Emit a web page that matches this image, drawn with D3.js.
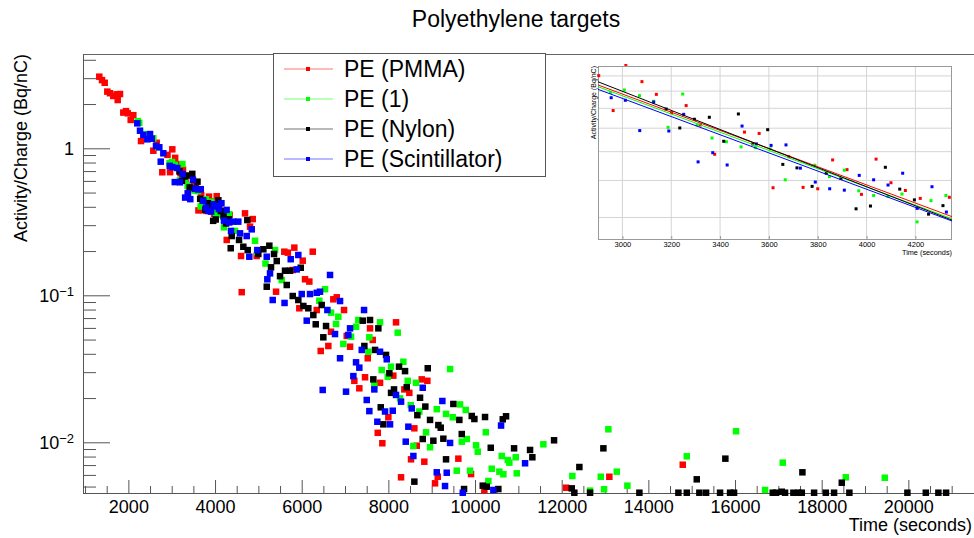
<!DOCTYPE html>
<html>
<head>
<meta charset="utf-8">
<script src="https://cdn.jsdelivr.net/npm/d3@7"></script>
<style>
body { margin: 0; background: #fff; }
text { font-family: "Liberation Sans", Arial, Helvetica, sans-serif; fill: #000; }
</style>
</head>
<body>
<svg class="chart"></svg>
<script>
var width = 974, height = 538;

var seriesNames = ["PE (PMMA)", "PE (1)", "PE (Nylon)", "PE (Scintillator)"];
var seriesColors = ["#ff0000", "#00ff00", "#000000", "#0000ff"];

// [time (s), activity/charge (Bq/nC)]
var pmmaPoints = [
  [1329,3.07],[1392,2.91],[1454,2.79],[1514,2.43],[1576,2.37],[1652,2.27],[1731,2.33],[1754,2.13],
  [1807,2.34],[1883,1.75],[1946,1.79],[1985,1.73],[2054,1.56],[2114,1.68],[2292,1.12],[2576,0.963],
  [2654,1.09],[2783,0.687],[2903,0.902],[2962,0.688],[3014,0.984],[3080,0.861],[3139,0.780],[3201,0.677],
  [3261,0.715],[3319,0.615],[3378,0.490],[3500,0.582],[3560,0.576],[3617,0.378],[3681,0.481],[3740,0.379],
  [3800,0.375],[3861,0.469],[3920,0.435],[3979,0.359],[4039,0.472],[4100,0.393],[4159,0.370],[4220,0.348],
  [4270,0.238],[4339,0.351],[4600,0.185],[4616,0.105],[4692,0.361],[4808,0.293],[4870,0.330],[4960,0.185],
  [5408,0.1058],[5599,0.198],[5680,0.195],[5793,0.1486],[5830,0.211],[5945,0.0816],[6024,0.172],[6077,0.1285],
  [6176,0.124],[6255,0.198],[6347,0.0794],[6439,0.0418],[6615,0.0452],[6677,0.0565],[6730,0.0939],[6809,0.0969],
  [6977,0.0794],[7039,0.0529],[7116,0.0447],[7215,0.0262],[7330,0.0233],[7462,0.0277],[7524,0.0373],[7577,0.0596],
  [7639,0.0497],[7755,0.0116],[7808,0.0254],[7861,0.00985],[8000,0.0148],[8115,0.0284],[8177,0.0655],[8293,0.00578],
  [8369,0.0229],[8484,0.0217],[8523,0.00766],[8600,0.01245],[8655,0.00948],[8770,0.0268],[8830,0.00738],[8900,0.0262],
  [9077,0.00526],[9140,0.00583],[9615,0.00774],[9908,0.00608],[10215,0.00474],[12101,0.00491],[13100,0.00583],[14794,0.00704]
];
var onePoints = [
  [2216,1.53],[2252,1.49],[2361,1.25],[2576,1.17],[2691,1.016],[2951,0.792],[3008,0.807],[3070,0.772],
  [3128,0.739],[3187,0.604],[3247,0.782],[3306,0.615],[3367,0.556],[3426,0.540],[3486,0.519],[3545,0.516],
  [3606,0.511],[3667,0.402],[3788,0.450],[3848,0.412],[3909,0.433],[3968,0.369],[4029,0.356],[4088,0.353],
  [4145,0.360],[4207,0.290],[4264,0.342],[4325,0.356],[4461,0.274],[4923,0.235],[4970,0.197],[5165,0.1645],
  [5385,0.203],[5539,0.127],[6407,0.0918],[6538,0.110],[6677,0.0762],[6792,0.0638],[6845,0.0715],[6961,0.0467],
  [7139,0.0523],[7254,0.0611],[7307,0.0679],[7538,0.0413],[7561,0.0518],[7676,0.0245],[7808,0.0655],[7847,0.0310],
  [7986,0.0279],[8062,0.0327],[8216,0.0557],[8269,0.0199],[8346,0.0353],[8447,0.0262],[8517,0.0179],[8577,0.00944],
  [8639,0.0254],[8715,0.0162],[8870,0.0117],[8962,0.00925],[9117,0.0168],[9331,0.0156],[9424,0.0315],[9486,0.0148],
  [9578,0.00641],[9654,0.0181],[9694,0.0101],[9786,0.0166],[9809,0.01053],[9885,0.00641],[10024,0.00954],[10063,0.00863],
  [10248,0.0117],[10308,0.00545],[10386,0.00661],[10562,0.00631],[10617,0.00807],[10654,0.00606],[10755,0.00758],[10792,0.00727],
  [10940,0.00791],[10963,0.00615],[11577,0.00969],[12246,0.0059],[12655,0.00469],[12902,0.00583],[12978,0.00479],[13077,0.01226],
  [13271,0.00631],[13516,0.00507],[14887,0.00803],[16024,0.01189],[16694,0.00474],[17102,0.00727],[18556,0.00578],[19456,0.00574]
];
var nylonPoints = [
  [3179,0.696],[3235,0.601],[3295,0.643],[3356,0.653],[3415,0.542],[3475,0.670],[3534,0.531],[3595,0.593],
  [3657,0.453],[3715,0.441],[3777,0.382],[3835,0.423],[3895,0.406],[3957,0.321],[4016,0.328],[4077,0.443],
  [4136,0.374],[4196,0.344],[4254,0.308],[4313,0.329],[4362,0.209],[4385,0.253],[4554,0.238],[4653,0.214],
  [4745,0.325],[4754,0.203],[4999,0.191],[5115,0.2056],[5193,0.1144],[5253,0.2175],[5292,0.155],[5361,0.191],
  [5424,0.171],[5500,0.135],[5615,0.147],[5655,0.1175],[5731,0.147],[5793,0.0989],[5922,0.0929],[5978,0.154],
  [6038,0.0846],[6153,0.0816],[6268,0.0734],[6324,0.0635],[6462,0.0859],[6499,0.0518],[6562,0.0618],[7409,0.0672],
  [7446,0.0452],[7577,0.0679],[7653,0.0268],[7693,0.0425],[7769,0.0596],[7824,0.0173],[7884,0.01325],[7946,0.0393],
  [8023,0.0295],[8062,0.0217],[8131,0.0229],[8246,0.0327],[8385,0.0305],[8424,0.0237],[8600,0.0054],[8669,0.0153],
  [8731,0.0201],[8793,0.01053],[8853,0.0175],[8909,0.0319],[8962,0.0142],[9038,0.01025],[9154,0.0131],[9209,0.01257],
  [9269,0.01058],[9331,0.00766],[9500,0.01823],[9638,0.0142],[9694,0.01138],[9747,0.00481],[9924,0.0151],[9985,0.0144],
  [10178,0.00507],[10231,0.01486],[10271,0.00499],[10363,0.00918],[10538,0.00481],[10640,0.01434],[10716,0.01503],[10901,0.0091],
  [11270,0.00887],[11323,0.00791],[11824,0.01032],[12232,0.00486],[12292,0.00454],[12408,0.00679],[12655,0.00454],[12962,0.0091],
  [13793,0.00454],[14693,0.00454],[14887,0.00454],[15117,0.0056],[15177,0.00454],[15332,0.00454],[15655,0.00454],[15777,0.00774],
  [15886,0.00454],[15978,0.00454],[16871,0.00454],[16948,0.00454],[17079,0.00461],[17155,0.00454],[17347,0.00454],[17462,0.00454],
  [17541,0.00454],[17555,0.00625],[17825,0.00454],[18095,0.00454],[18286,0.00454],[18464,0.00531],[18639,0.00454],[19978,0.00454],
  [20403,0.00454],[20693,0.00454],[20871,0.00454]
];
var scintPoints = [
  [2206,1.479],[2269,1.317],[2345,1.232],[2437,1.151],[2500,1.25],[2539,1.162],[2638,1.037],[2714,1.016],
  [2747,0.811],[2807,0.925],[2954,0.760],[3012,0.745],[3071,0.589],[3128,0.735],[3190,0.587],[3251,0.668],
  [3310,0.462],[3370,0.496],[3429,0.451],[3490,0.610],[3549,0.531],[3609,0.525],[3670,0.527],[3729,0.440],
  [3790,0.395],[3849,0.375],[3909,0.371],[3970,0.416],[4029,0.402],[4088,0.386],[4148,0.423],[4207,0.322],
  [4268,0.381],[4327,0.313],[4369,0.274],[4422,0.317],[4537,0.317],[4577,0.264],[4731,0.253],[4791,0.183],
  [4847,0.281],[4976,0.203],[5193,0.183],[5207,0.1285],[5269,0.141],[5331,0.0929],[5604,0.0887],[5747,0.176],
  [5885,0.150],[5922,0.188],[6001,0.102],[6116,0.0672],[6192,0.102],[6347,0.104],[6423,0.1058],[6485,0.0227],
  [6592,0.0794],[6654,0.1375],[6769,0.0545],[6885,0.0914],[6885,0.0373],[7023,0.0221],[7076,0.0537],[7116,0.0596],
  [7192,0.0282],[7254,0.035],[7330,0.0322],[7386,0.0425],[7439,0.0794],[7501,0.0194],[7561,0.0163],[7676,0.0229],
  [7746,0.0138],[7808,0.0413],[7923,0.0162],[7963,0.0367],[8039,0.01325],[8101,0.0164],[8177,0.0210],[8293,0.0189],
  [8401,0.0101],[8461,0.01277],[8540,0.0170],[8577,0.00807],[8793,0.0235],[9117,0.00625],[9246,0.0191],[9308,0.00504],
  [9347,0.00621],[9424,0.0099],[9717,0.00454],[10423,0.00474],[10601,0.0130],[11155,0.00720]
];

// exponential fits drawn in the inset: value at the start and end of the fit range
var fitRange = [2900, 4350];
var fitStart = [0.839, 0.828, 0.860, 0.811];
var fitEnd = [0.302, 0.297, 0.294, 0.292];

var xTickValues = [2000, 4000, 6000, 8000, 10000, 12000, 14000, 16000, 18000, 20000];
var yTickValues = [0.01, 0.1, 1];
var yTickLabels = [["10", "\u22122"], ["10", "\u22121"], ["1", ""]];
var insetXTickValues = [3000, 3200, 3400, 3600, 3800, 4000, 4200];
var insetYGridValues = [0.3, 0.4, 0.5, 0.6, 0.7, 0.8, 0.9];

var allSeries = [pmmaPoints, onePoints, nylonPoints, scintPoints];

var chart = d3.select(".chart")
    .attr("width", width)
    .attr("height", height);

chart.append("rect").attr("width", width).attr("height", height).attr("fill", "#fff");

var x_scale = d3.scaleLinear()
    .domain([953, 21492])
    .range([83, 973]);

var y_scale = d3.scaleLog()
    .domain([0.00452, 4.38])
    .range([493, 54]);

// title
chart.append("text")
    .attr("x", 516).attr("y", 27)
    .attr("text-anchor", "middle")
    .style("font-size", "23px")
    .text("Polyethylene targets");

// frame top
chart.append("line")
    .attr("x1", 83).attr("x2", 974).attr("y1", 54.5).attr("y2", 54.5)
    .attr("stroke", "#666");

// x axis, majors + minors
var xMinor = d3.range(1000, 21500, 500).filter(function(d) { return d % 2000 != 0; });

var xAxisG = chart.append("g")
    .attr("transform", "translate(0,493)")
    .call(d3.axisBottom(x_scale).tickValues(xTickValues).tickSize(-13).tickSizeOuter(0)
        .tickPadding(7).tickFormat(d3.format("d")));
chart.append("g")
    .attr("transform", "translate(0,493)")
    .call(d3.axisBottom(x_scale).tickValues(xMinor).tickSize(-7).tickSizeOuter(0).tickFormat(""))
    .select(".domain").remove();
xAxisG.select(".domain").attr("d", "M83,0.5H974");

// y axis
var yMinor = [];
[0.001, 0.01, 0.1, 1].forEach(function(dec) {
    for (var m = 2; m <= 9; m++) {
        var v = dec * m;
        if (v > 0.00452 && v < 4.38) yMinor.push(v);
    }
});

var yAxisG = chart.append("g")
    .attr("transform", "translate(83,0)")
    .call(d3.axisLeft(y_scale).tickValues(yTickValues).tickSize(-27).tickSizeOuter(0).tickFormat(""));
chart.append("g")
    .attr("transform", "translate(83,0)")
    .call(d3.axisLeft(y_scale).tickValues(yMinor).tickSize(-13).tickSizeOuter(0).tickFormat(""))
    .select(".domain").remove();
yAxisG.select(".domain").attr("d", "M0.5,54V493");

chart.selectAll(".tick line, .domain").attr("stroke", "#555");
xAxisG.selectAll("text").style("font-size", "18px").attr("fill", "#000");

var yLab = chart.append("g").selectAll("text")
    .data(yTickValues)
    .enter().append("text")
    .attr("x", 74)
    .attr("y", function(d) { return y_scale(d); })
    .attr("dy", "0.35em")
    .attr("text-anchor", "end")
    .style("font-size", "18px");
yLab.append("tspan").text(function(d, i) { return yTickLabels[i][0]; });
yLab.append("tspan")
    .attr("dy", "-0.45em")
    .style("font-size", "13px")
    .text(function(d, i) { return yTickLabels[i][1]; });

// axis titles
chart.append("text")
    .attr("x", 972).attr("y", 531)
    .attr("text-anchor", "end")
    .style("font-size", "18px")
    .text("Time (seconds)");

chart.append("text")
    .attr("transform", "translate(27,54) rotate(-90)")
    .attr("text-anchor", "end")
    .style("font-size", "18px")
    .text("Activity/Charge (Bq/nC)");

// points
var markerSize = 6.5;
allSeries.forEach(function(points, i) {
    chart.append("g")
        .selectAll("rect")
        .data(points)
        .enter().append("rect")
        .attr("x", function(d) { return x_scale(d[0]) - markerSize / 2; })
        .attr("y", function(d) { return y_scale(d[1]) - markerSize / 2; })
        .attr("width", markerSize)
        .attr("height", markerSize)
        .attr("fill", seriesColors[i]);
});

// legend
var legendY = d3.scalePoint().domain(seriesNames).range([69, 159]);
var legend = chart.append("g");
legend.append("rect")
    .attr("x", 273.5).attr("y", 53.5).attr("width", 272).attr("height", 123)
    .attr("fill", "#fff").attr("stroke", "#555");
var rows = legend.selectAll("g.row")
    .data(seriesNames)
    .enter().append("g")
    .attr("transform", function(d) { return "translate(0," + legendY(d) + ")"; });
rows.append("line")
    .attr("x1", 284).attr("x2", 333).attr("y1", 0).attr("y2", 0)
    .attr("stroke", function(d, i) { return seriesColors[i]; })
    .attr("stroke-opacity", 0.55);
rows.append("rect")
    .attr("x", 306).attr("y", -2).attr("width", 4).attr("height", 4)
    .attr("fill", function(d, i) { return seriesColors[i]; });
rows.append("text")
    .attr("x", 344).attr("y", 0).attr("dy", "0.36em")
    .style("font-size", "23px")
    .text(function(d) { return d; });

// inset
var ix = d3.scaleLinear().domain(fitRange).range([598, 952]);
var iy = d3.scaleLog().domain([0.252, 0.972]).range([240, 66]);

var inset = chart.append("g");
inset.append("rect")
    .attr("x", 591).attr("y", 58).attr("width", 383).attr("height", 205)
    .attr("fill", "#fff");

inset.selectAll("line.gx")
    .data(insetXTickValues)
    .enter().append("line")
    .attr("x1", function(d) { return ix(d); }).attr("x2", function(d) { return ix(d); })
    .attr("y1", 66).attr("y2", 240)
    .attr("stroke", "#d4d4d4");
inset.selectAll("line.gy")
    .data(insetYGridValues)
    .enter().append("line")
    .attr("y1", function(d) { return iy(d); }).attr("y2", function(d) { return iy(d); })
    .attr("x1", 598).attr("x2", 952)
    .attr("stroke", "#d4d4d4");

inset.append("rect")
    .attr("x", 598.5).attr("y", 66.5).attr("width", 353).attr("height", 173)
    .attr("fill", "none").attr("stroke", "#999");

var iAxis = inset.append("g")
    .attr("transform", "translate(0,240)")
    .call(d3.axisBottom(ix).tickValues(insetXTickValues).tickSize(-4).tickSizeOuter(0).tickPadding(2).tickFormat(d3.format("d")));
iAxis.select(".domain").remove();
iAxis.selectAll("line").attr("stroke", "#999");
iAxis.selectAll("text").style("font-size", "7.5px").attr("fill", "#333");

inset.append("text")
    .attr("x", 952).attr("y", 255)
    .attr("text-anchor", "end")
    .style("font-size", "7.3px").attr("fill", "#333")
    .text("Time (seconds)");
inset.append("text")
    .attr("transform", "translate(596,66) rotate(-90)")
    .attr("text-anchor", "end")
    .style("font-size", "7px").attr("fill", "#333")
    .text("Activity/Charge (Bq/nC)");

inset.append("clipPath").attr("id", "insetClip")
    .append("rect").attr("x", 596).attr("y", 64).attr("width", 358).attr("height", 178);

var insetPlot = inset.append("g").attr("clip-path", "url(#insetClip)");
var iMarker = 3;
allSeries.forEach(function(points, i) {
    insetPlot.append("g")
        .selectAll("rect")
        .data(points.filter(function(d) { return d[0] >= 2880 && d[0] <= 4370 && d[1] > 0.24 && d[1] < 1; }))
        .enter().append("rect")
        .attr("x", function(d) { return ix(d[0]) - iMarker / 2; })
        .attr("y", function(d) { return iy(d[1]) - iMarker / 2; })
        .attr("width", iMarker)
        .attr("height", iMarker)
        .attr("fill", seriesColors[i]);
});

var fitLine = d3.line()
    .x(function(d) { return ix(d[0]); })
    .y(function(d) { return iy(d[1]); });
seriesNames.forEach(function(name, i) {
    insetPlot.append("path")
        .attr("d", fitLine([[fitRange[0], fitStart[i]], [fitRange[1], fitEnd[i]]]))
        .attr("fill", "none")
        .attr("stroke", seriesColors[i])
        .attr("stroke-width", 1);
});
</script>
</body>
</html>
